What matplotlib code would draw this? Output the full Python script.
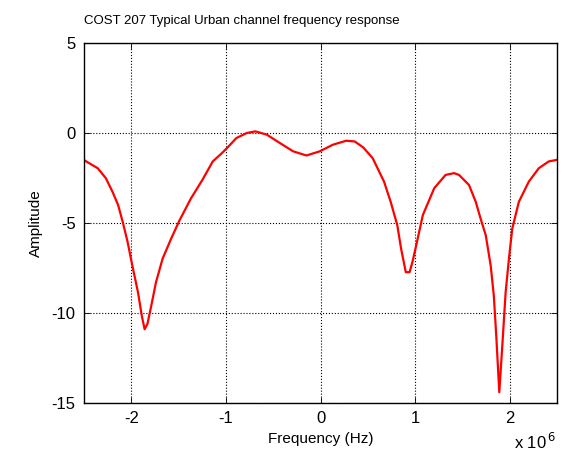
import numpy as np
import matplotlib
matplotlib.use("Agg")
import matplotlib.pyplot as plt

# Frequency in units of 1e6 Hz, amplitude values
freq_mhz = [-2.5, -2.477, -2.355, -2.27, -2.20, -2.14, -2.09, -2.04, -1.99, -1.93, -1.89, -1.86,
            -1.83, -1.79, -1.74, -1.67, -1.58, -1.49, -1.37, -1.25, -1.14, -1.05, -0.99,
            -0.89, -0.78, -0.69, -0.57, -0.43, -0.29, -0.15, -0.01, 0.13, 0.27, 0.36, 0.45,
            0.55, 0.67, 0.74, 0.81, 0.85, 0.90, 0.94, 0.97, 1.01, 1.08, 1.20, 1.32, 1.41,
            1.463, 1.568, 1.639, 1.69, 1.745, 1.797, 1.83, 1.856, 1.888, 1.92, 1.955, 1.99,
            2.025, 2.095, 2.20, 2.305, 2.41, 2.5]
amplitude = [-1.5, -1.58, -1.96, -2.51, -3.26, -4.0, -4.97, -6.05, -7.36, -8.85, -10.15, -10.9,
             -10.6, -9.6, -8.29, -6.98, -5.87, -4.84, -3.63, -2.61, -1.58, -1.15, -0.84,
             -0.28, 0.0, 0.09, -0.09, -0.56, -1.02, -1.25, -1.02, -0.65, -0.43, -0.47, -0.8,
             -1.40, -2.70, -3.82, -5.12, -6.42, -7.73, -7.73, -7.17, -6.24, -4.56, -3.07, -2.33, -2.23,
             -2.33, -2.89, -3.82, -4.75, -5.68, -7.36, -9.03, -11.27, -14.4, -11.8, -8.85, -6.98,
             -5.31, -3.82, -2.70, -1.96, -1.58, -1.49]

x_ticks = [-2, -1, 0, 1, 2]
y_ticks = [-15, -10, -5, 0, 5]

plt.rcParams['font.family'] = ['Liberation Sans', 'DejaVu Sans']

fig = plt.figure(figsize=(5.68, 4.57), dpi=100)
ax = fig.add_axes([0.148, 0.118, 0.833, 0.788])

x_hz = np.array(freq_mhz) * 1e6
ax.plot(x_hz, amplitude, color='red', linewidth=1.6)

ax.set_xlim(-2.5e6, 2.5e6)
ax.set_ylim(-15, 5)
ax.set_xticks([t * 1e6 for t in x_ticks])
ax.set_xticklabels([str(t) for t in x_ticks])
ax.set_yticks(y_ticks)
ax.set_yticklabels([str(t) for t in y_ticks])
ax.tick_params(direction='in', top=True, right=True, labelsize=12, length=4, width=0.6, pad=6)
ax.grid(True, color='black', linestyle=':', linewidth=0.8)
for s in ax.spines.values():
    s.set_linewidth(1.0)

ax.set_xlabel('Frequency (Hz)', fontsize=11, labelpad=4)
ax.set_ylabel('Amplitude', fontsize=11, labelpad=6)
ax.set_title('COST 207 Typical Urban channel frequency response', fontsize=9.5, loc='left',
             x=0.0, pad=14)
fig.text(0.905, 0.01, r'x 10$^{\,6}$', fontsize=12, ha='left', va='bottom')

fig.savefig('out.png', dpi=100)
